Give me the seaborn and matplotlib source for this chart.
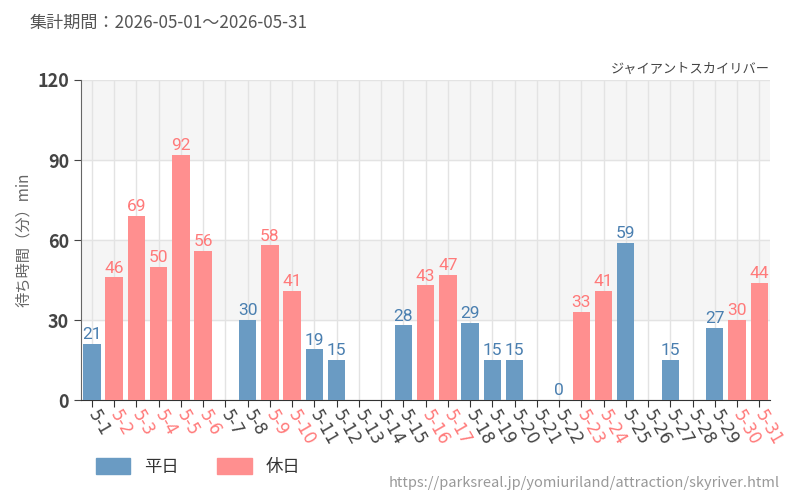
import numpy as np
import pandas as pd
import matplotlib
matplotlib.use("Agg")
import matplotlib.pyplot as plt
from matplotlib.patches import Patch
import seaborn as sns

# 5月の待ち時間データ
days = [f"5-{d}" for d in range(1, 32)]
waits = [21, 46, 69, 50, 92, 56, np.nan, 30, 58, 41, 19, 15, np.nan, np.nan, 28,
         43, 47, 29, 15, 15, np.nan, 0, 33, 41, 59, np.nan, 15, np.nan, 27, 30, 44]
holidays = ["5-2", "5-3", "5-4", "5-5", "5-6", "5-9", "5-10", "5-16", "5-17",
            "5-23", "5-24", "5-30", "5-31"]
kinds = ["休日" if d in holidays else "平日" for d in days]

blue = "#6a9bc3"
pink = "#ff8f8f"
blue_txt = "#4a7fb0"
pink_txt = "#ff7a7a"

sns.set_style("white")
plt.rcParams["font.family"] = ["Noto Sans CJK JP", "DejaVu Sans"]

df = pd.DataFrame({"day": days, "wait": waits, "kind": kinds})

fig = plt.figure(figsize=(8, 5), dpi=100)
ax = fig.add_axes([0.101, 0.2, 0.862, 0.64])

# 背景の帯
ax.axhspan(90, 120, color="#f5f5f5", zorder=0)
ax.axhspan(30, 60, color="#f5f5f5", zorder=0)

sns.barplot(data=df, x="day", y="wait", hue="kind", order=days,
            hue_order=["平日", "休日"], palette={"平日": blue, "休日": pink},
            dodge=False, width=0.78, saturation=1, linewidth=0,
            legend=False, ax=ax, zorder=3)

ax.set_ylim(0, 120)
ax.set_xlim(-0.5, len(days) - 0.5)
ax.set_yticks([0, 30, 60, 90, 120])
ax.grid(True, color="#e3e3e3", linewidth=1, zorder=1)
ax.set_axisbelow(True)

for i, (v, k) in enumerate(zip(waits, kinds)):
    if np.isnan(v):
        continue
    ax.text(i, v + 0.6, f"{int(v)}", ha="center", va="bottom", fontsize=12.5,
            color=pink_txt if k == "休日" else blue_txt,
            family=["Roboto", "DejaVu Sans"], zorder=4)

ax.set_xlabel("")
ax.set_ylabel("待ち時間（分）min", color="#666666", fontsize=11)
ax.tick_params(axis="y", labelsize=13, colors="#444444", length=5, direction="out", left=True)
ax.tick_params(axis="x", labelsize=12, length=5, direction="out", bottom=True, color="#333333")
for lbl in ax.get_yticklabels():
    lbl.set_fontweight("bold")
for lbl, k in zip(ax.get_xticklabels(), kinds):
    lbl.set_family("DejaVu Sans")
    lbl.set_rotation(-60)
    lbl.set_rotation_mode("anchor")
    lbl.set_ha("left")
    lbl.set_va("center")
    lbl.set_color(pink_txt if k == "休日" else "#444444")

sns.despine(ax=ax)
ax.spines["left"].set_color("#666666")
ax.spines["bottom"].set_color("#333333")

fig.text(0.0375, 0.955, "集計期間：2026-05-01～2026-05-31", fontsize=12.3, color="#555555", va="center")
fig.text(0.9625, 0.862, "ジャイアントスカイリバー", fontsize=9.5, color="#444444", ha="right", va="center")
fig.text(0.975, 0.035, "https://parksreal.jp/yomiuriland/attraction/skyriver.html",
         fontsize=10.5, color="#999999", ha="right", va="center")

handles = [Patch(color=blue, label="平日"), Patch(color=pink, label="休日")]
fig.legend(handles=handles, loc="center left", bbox_to_anchor=(0.1, 0.066), ncol=2,
           frameon=False, fontsize=12.5, handlelength=2, handleheight=1, columnspacing=2.2,
           labelcolor="#333333")

fig.savefig("out.png", dpi=100)
